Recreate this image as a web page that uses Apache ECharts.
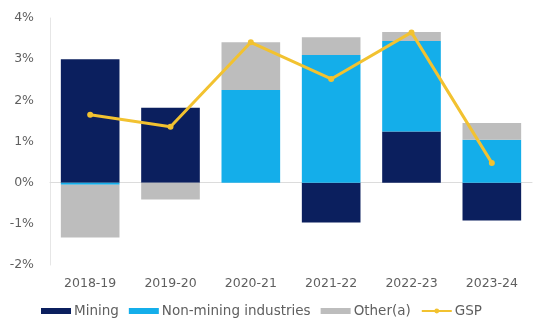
<!DOCTYPE html>
<html>
<head>
<meta charset="utf-8">
<script src="https://cdn.jsdelivr.net/npm/echarts@6/dist/echarts.min.js"></script>
<style>
  html, body { margin: 0; padding: 0; background: #fff; }
  #chart { width: 534px; height: 327px; }
</style>
</head>
<body>
<div id="chart"></div>
<script>
// Contributions to growth in gross state product, percentage points
const years = ['2018-19', '2019-20', '2020-21', '2021-22', '2022-23', '2023-24'];
const mining = [3.0, 1.82, 0, -0.97, 1.24, -0.92];
const nonMining = [-0.05, 0, 2.25, 3.1, 2.2, 1.04];
const other = [-1.28, -0.41, 1.16, 0.43, 0.22, 0.41];
const gsp = [1.65, 1.36, 3.41, 2.52, 3.65, 0.48];
const yTicks = [-2, -1, 0, 1, 2, 3, 4];

const chart = echarts.init(document.getElementById('chart'));
const textColor = '#5f5f5f';
const font = 'DejaVu Sans';

chart.setOption({
  animation: false,
  grid: { left: 50, right: 2, top: 18, bottom: 62 },
  legend: {
    top: 299,
    left: 36,
    itemWidth: 30,
    itemHeight: 6,
    itemGap: 10,
    textStyle: { color: textColor, fontSize: 13.5, fontFamily: font, padding: [0, 0, 0, -2] },
    data: [
      { name: 'Mining', icon: 'rect' },
      { name: 'Non-mining industries', icon: 'rect' },
      { name: 'Other(a)', icon: 'rect' },
      { name: 'GSP' }
    ]
  },
  xAxis: {
    type: 'category',
    data: years,
    axisTick: { show: false },
    axisLine: { onZero: true, lineStyle: { color: '#dcdcdc', width: 1 } },
    axisLabel: {
      color: textColor, fontSize: 12.5, fontFamily: font,
      margin: 12
    }
  },
  yAxis: {
    type: 'value',
    min: yTicks[0],
    max: yTicks[yTicks.length - 1],
    interval: 1,
    axisLine: { show: true, lineStyle: { color: '#e6e6e6' } },
    axisTick: { show: false },
    splitLine: { show: false },
    axisLabel: {
      color: textColor, fontSize: 12.5, fontFamily: font, margin: 16,
      formatter: v => v + '%'
    }
  },
  series: [
    {
      name: 'Mining', type: 'bar', stack: 'c', data: mining,
      barWidth: '73%', itemStyle: { color: '#0b1f5e' }
    },
    {
      name: 'Non-mining industries', type: 'bar', stack: 'c', data: nonMining,
      itemStyle: { color: '#14aeea' }
    },
    {
      name: 'Other(a)', type: 'bar', stack: 'c', data: other,
      itemStyle: { color: '#bdbdbd' }
    },
    {
      name: 'GSP', type: 'line', data: gsp,
      symbol: 'circle', symbolSize: 6,
      lineStyle: { color: '#f2c230', width: 3 },
      itemStyle: { color: '#f2c230' },
      z: 5
    }
  ]
});
</script>
</body>
</html>
